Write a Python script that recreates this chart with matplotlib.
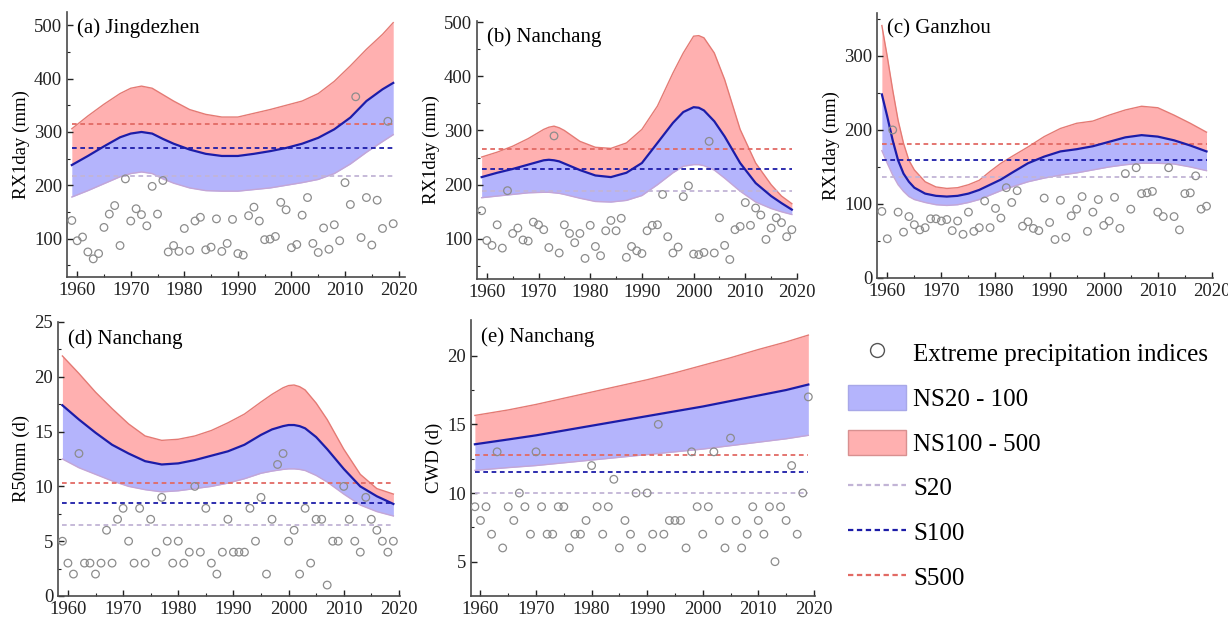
import numpy as np
import matplotlib
matplotlib.use("Agg")
import matplotlib.pyplot as plt
from matplotlib.lines import Line2D
from matplotlib.patches import Patch

plt.rcParams["font.family"] = ["Liberation Serif", "DejaVu Serif"]

YEARS = list(range(1959, 2020))

# ---- (a) Jingdezhen RX1day ----
obs_a = [134, 96, 103, 75, 62, 72, 121, 146, 162, 87, 212, 133, 156, 145, 124, 198,
         146, 209, 75, 87, 76, 119, 78, 133, 140, 79, 84, 137, 76, 91, 136, 72, 69,
         143, 159, 133, 98, 99, 104, 168, 154, 83, 89, 144, 177, 91, 74, 120, 80,
         126, 96, 205, 164, 366, 102, 177, 88, 172, 119, 320, 128]
yr_a = [1959, 1962, 1965, 1968, 1970, 1972, 1974, 1976, 1978, 1981, 1984, 1987, 1990,
        1993, 1996, 1999, 2002, 2005, 2008, 2011, 2014, 2017, 2019]
up_a = [306, 330, 352, 372, 382, 386, 382, 370, 358, 342, 333, 328, 328, 335, 342,
        350, 358, 372, 395, 424, 455, 483, 505]
mid_a = [238, 255, 273, 290, 297, 300, 297, 287, 278, 267, 259, 255, 255, 259, 264,
         270, 278, 289, 305, 327, 358, 380, 392]
low_a = [178, 190, 203, 216, 222, 225, 222, 212, 204, 195, 190, 189, 189, 192, 195,
         200, 205, 211, 222, 240, 262, 282, 295]
s_a = [218, 269, 315]

# ---- (b) Nanchang RX1day ----
obs_b = [152, 97, 88, 126, 83, 189, 110, 120, 98, 96, 131, 126, 117, 84, 290, 74,
         126, 110, 93, 110, 64, 125, 86, 69, 115, 134, 115, 138, 66, 86, 78, 73, 115,
         125, 126, 182, 104, 74, 85, 178, 198, 72, 71, 75, 280, 74, 139, 88, 62, 117,
         123, 167, 125, 157, 144, 99, 120, 139, 130, 104, 117]
yr_b = [1959, 1962, 1965, 1968, 1971, 1972, 1973, 1974, 1975, 1978, 1981, 1984, 1987,
        1990, 1993, 1996, 1998, 2000, 2001, 2002, 2004, 2006, 2009, 2012, 2015, 2017,
        2019]
up_b = [251, 260, 271, 285, 302, 306, 308, 305, 300, 280, 269, 267, 277, 302, 345,
        406, 443, 474, 475, 471, 443, 394, 302, 240, 200, 179, 165]
mid_b = [214, 222, 229, 237, 245, 246, 245, 243, 239, 227, 217, 214, 222, 240, 277,
         314, 334, 343, 342, 337, 317, 289, 240, 203, 179, 166, 154]
low_b = [176, 179, 182, 185, 186, 186, 185, 184, 182, 175, 169, 168, 171, 180, 200,
         222, 234, 237, 237, 235, 227, 212, 188, 168, 156, 150, 145]
s_b = [189, 229, 265]

# ---- (c) Ganzhou RX1day ----
obs_c = [90, 53, 200, 89, 62, 83, 72, 65, 68, 80, 80, 77, 79, 64, 77, 59, 89, 63, 68,
         104, 68, 94, 81, 122, 102, 118, 70, 76, 67, 64, 108, 75, 52, 105, 55, 84, 93,
         110, 63, 89, 106, 71, 77, 109, 67, 141, 93, 149, 114, 115, 117, 89, 83, 149,
         83, 65, 114, 115, 138, 93, 97]
yr_c = [1959, 1960, 1961, 1962, 1963, 1964, 1965, 1967, 1969, 1971, 1973, 1975, 1977,
        1979, 1981, 1983, 1986, 1989, 1992, 1995, 1998, 2001, 2004, 2007, 2010, 2013,
        2016, 2019]
up_c = [341, 299, 254, 213, 182, 159, 146, 130, 123, 121, 122, 126, 132, 144, 155,
        164, 177, 191, 202, 209, 212, 220, 227, 232, 230, 220, 209, 197]
mid_c = [248, 218, 186, 159, 141, 130, 122, 114, 111, 110, 111, 114, 119, 126, 133,
         142, 155, 164, 171, 174, 178, 184, 190, 193, 191, 186, 179, 171]
low_c = [172, 155, 139, 126, 117, 110, 106, 102, 99, 98, 99, 102, 106, 112, 118, 123,
         130, 135, 139, 142, 146, 150, 153, 155, 155, 154, 150, 145]
s_c = [136, 159, 181]

# ---- (d) Nanchang R50mm ----
obs_d = [5, 3, 2, 13, 3, 3, 2, 3, 6, 3, 7, 8, 5, 3, 8, 3, 7, 4, 9, 5, 3, 5, 3, 4, 10,
         4, 8, 3, 2, 4, 7, 4, 4, 4, 8, 5, 9, 2, 7, 12, 13, 5, 6, 2, 8, 3, 7, 7, 1, 5, 5,
         10, 7, 5, 4, 9, 7, 6, 5, 4, 5]
yr_d = [1959, 1962, 1965, 1968, 1971, 1974, 1977, 1980, 1983, 1986, 1989, 1992, 1995,
        1997, 1999, 2000, 2001, 2002, 2003, 2005, 2007, 2010, 2013, 2016, 2019]
up_d = [21.9, 20.3, 18.6, 17.1, 15.7, 14.6, 14.2, 14.3, 14.6, 15.1, 15.8, 16.6, 17.7,
        18.4, 19.0, 19.2, 19.25, 19.1, 18.8, 17.6, 16.1, 13.4, 11.1, 9.8, 9.3]
mid_d = [17.4, 16.1, 14.9, 13.8, 13.0, 12.3, 12.0, 12.1, 12.4, 12.8, 13.2, 13.8, 14.7,
         15.2, 15.5, 15.6, 15.6, 15.5, 15.3, 14.5, 13.4, 11.6, 10.0, 9.1, 8.4]
low_d = [12.5, 11.7, 11.1, 10.5, 10.0, 9.7, 9.5, 9.6, 9.8, 10.0, 10.3, 10.7, 11.2,
         11.4, 11.55, 11.6, 11.6, 11.55, 11.45, 11.0, 10.4, 9.3, 8.3, 7.7, 7.3]
s_d = [6.45, 8.5, 10.35]

# ---- (e) Nanchang CWD ----
obs_e = [9, 8, 9, 7, 13, 6, 9, 8, 10, 9, 7, 13, 9, 7, 7, 9, 9, 6, 7, 7, 8, 12, 9, 7,
         9, 11, 6, 8, 7, 10, 6, 10, 7, 15, 7, 8, 8, 8, 6, 13, 9, 7, 9, 13, 8, 6, 14, 8,
         6, 7, 9, 8, 7, 9, 5, 9, 8, 12, 7, 10, 17]
yr_e = [1959, 1965, 1970, 1975, 1980, 1985, 1990, 1995, 2000, 2005, 2010, 2015, 2019]
up_e = [15.65, 16.05, 16.45, 16.9, 17.35, 17.8, 18.25, 18.75, 19.3, 19.85, 20.45,
        21.0, 21.5]
mid_e = [13.55, 13.9, 14.2, 14.55, 14.9, 15.25, 15.6, 15.95, 16.3, 16.7, 17.1, 17.5,
         17.9]
low_e = [11.65, 11.85, 12.0, 12.2, 12.4, 12.6, 12.8, 13.0, 13.2, 13.45, 13.7, 13.95,
         14.2]
s_e = [10.0, 11.5, 12.8]

RED_FILL = "#ffb0b0"
RED_EDGE = "#e47a74"
BLUE_FILL = "#b4b4fc"
BLUE_LINE = "#1c1ca8"
LOW_EDGE = "#c4a6d6"
S20_C = "#c2b4d6"
S100_C = "#1c1ca8"
S500_C = "#e26a64"

FIG_W, FIG_H = 1228, 623


def px_axes(fig, left, top, right, bottom):
    return fig.add_axes([left / FIG_W, 1 - bottom / FIG_H,
                         (right - left) / FIG_W, (bottom - top) / FIG_H])


def draw_panel(ax, title, ylabel, obs, yrs, up, mid, low, s_lines, ylim, yticks,
               yminor, xlim):
    ax.fill_between(yrs, mid, up, color=RED_FILL, lw=0, zorder=1)
    ax.fill_between(yrs, low, mid, color=BLUE_FILL, lw=0, zorder=1)
    ax.plot(yrs, up, color=RED_EDGE, lw=1.0, zorder=2)
    ax.plot(yrs, low, color=LOW_EDGE, lw=1.0, zorder=2)
    ax.plot(yrs, mid, color=BLUE_LINE, lw=1.6, zorder=3)
    for val, col in zip(s_lines, [S20_C, S100_C, S500_C]):
        ax.hlines(val, YEARS[0], YEARS[-1], color=col, lw=1.3,
                  linestyles=(0, (2.6, 2.0)), zorder=2)
    ax.scatter(YEARS, obs, s=30, facecolors="none", edgecolors="#8c8c8c",
               linewidths=0.9, zorder=4)
    ax.set_xlim(*xlim)
    ax.set_ylim(*ylim)
    ax.set_xticks(range(1960, 2021, 10))
    ax.set_xticks(range(1965, 2020, 10), minor=True)
    ax.set_yticks(yticks)
    ax.set_yticks(yminor, minor=True)
    ax.tick_params(which="both", direction="in", labelsize=13.5, colors="#222222")
    ax.tick_params(which="major", length=4, width=1)
    ax.tick_params(which="minor", length=2.5, width=0.8)
    for side in ("top", "right"):
        ax.spines[side].set_visible(False)
    for side in ("left", "bottom"):
        ax.spines[side].set_color("#4a4a4a")
        ax.spines[side].set_linewidth(1.2)
    ax.set_ylabel(ylabel, fontsize=13.5, labelpad=3)
    ax.text(0.03, 0.975, title, transform=ax.transAxes, ha="left", va="top",
            fontsize=15)


fig = plt.figure(figsize=(FIG_W / 100, FIG_H / 100), dpi=100)

ax_a = px_axes(fig, 67, 12, 405, 277)
draw_panel(ax_a, "(a) Jingdezhen", "RX1day (mm)", obs_a, yr_a, up_a, mid_a, low_a,
           s_a, (28, 525), [100, 200, 300, 400, 500], [50, 150, 250, 350, 450],
           (1958.1, 2021.2))

ax_b = px_axes(fig, 477, 21, 797, 279)
draw_panel(ax_b, "(b) Nanchang", "RX1day (mm)", obs_b, yr_b, up_b, mid_b, low_b,
           s_b, (26, 502), [100, 200, 300, 400, 500], [50, 150, 250, 350, 450],
           (1958.1, 2020.0))

ax_c = px_axes(fig, 877, 13, 1213, 278)
draw_panel(ax_c, "(c) Ganzhou", "RX1day (mm)", obs_c, yr_c, up_c, mid_c, low_c,
           s_c, (0, 358), [0, 100, 200, 300], [50, 150, 250, 350],
           (1958.1, 2020.2))

ax_d = px_axes(fig, 58, 322, 400, 596)
draw_panel(ax_d, "(d) Nanchang", "R50mm (d)", obs_d, yr_d, up_d, mid_d, low_d,
           s_d, (0, 25), [0, 5, 10, 15, 20, 25], [2.5, 7.5, 12.5, 17.5, 22.5],
           (1958.2, 2020.2))

ax_e = px_axes(fig, 471, 320, 815, 596)
draw_panel(ax_e, "(e) Nanchang", "CWD (d)", obs_e, yr_e, up_e, mid_e, low_e,
           s_e, (2.5, 22.6), [5, 10, 15, 20], [7.5, 12.5, 17.5],
           (1958.3, 2020.2))

handles = [
    Line2D([], [], ls="none", marker="o", markersize=10, markerfacecolor="none",
           markeredgecolor="#555555", markeredgewidth=1.0),
    Patch(facecolor=BLUE_FILL, edgecolor="#a8a8e8", lw=1),
    Patch(facecolor=RED_FILL, edgecolor="#d89090", lw=1),
    Line2D([], [], color=S20_C, lw=1.6, ls=(0, (2.4, 1.6))),
    Line2D([], [], color=S100_C, lw=1.6, ls=(0, (2.4, 1.6))),
    Line2D([], [], color=S500_C, lw=1.6, ls=(0, (2.4, 1.6))),
]
labels = ["Extreme precipitation indices", "NS20 - 100", "NS100 - 500", "S20",
          "S100", "S500"]
fig.legend(handles, labels, loc="upper left",
           bbox_to_anchor=(838 / FIG_W, 1 - 330 / FIG_H), frameon=False,
           fontsize=18, handlelength=2.3, handleheight=1.15, handletextpad=0.3,
           labelspacing=0.76, borderaxespad=0)

fig.savefig("out.png", dpi=100)
